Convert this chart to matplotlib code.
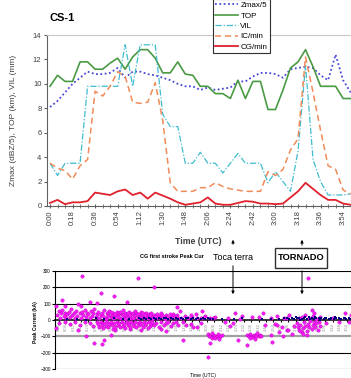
import numpy as np
import matplotlib
matplotlib.use('Agg')
import matplotlib.pyplot as plt
from matplotlib.patches import FancyArrowPatch, Rectangle

plt.rcParams['font.family'] = ['Liberation Sans', 'DejaVu Sans']

# ---- upper panel, one value every 6 min from 0:00 to 4:00
tick_labels = ['0:00', '0:18', '0:36', '0:54', '1:12', '1:30', '1:48',
               '2:06', '2:24', '2:42', '3:00', '3:18', '3:36', '3:54']
zmax5 = [8.1, 8.6, 9.3, 10.0, 10.5, 11.0, 10.8, 10.8, 10.9, 11.3, 10.5, 11.0, 11.0, 10.8,
         10.7, 10.5, 10.3, 10.0, 9.8, 9.8, 9.5, 9.7, 9.5, 9.6, 9.7, 10.2, 10.2, 10.6,
         10.9, 10.9, 10.8, 10.5, 11.2, 11.3, 11.4, 11.3, 10.7, 10.3, 12.4, 10.3, 9.3]
top = [9.8, 10.7, 10.2, 10.2, 11.8, 11.8, 11.2, 11.2, 11.7, 12.1, 11.2, 12.2, 12.8, 12.8,
       12.1, 10.9, 10.9, 11.8, 10.8, 10.7, 9.8, 9.8, 9.2, 9.2, 8.8, 10.3, 8.8, 10.2,
       10.2, 7.9, 7.9, 9.5, 11.3, 11.8, 12.8, 11.4, 9.8, 9.8, 9.8, 8.8, 8.8]
vil = [3.5, 2.5, 3.5, 3.5, 3.5, 9.8, 9.8, 9.8, 9.8, 9.8, 13.2, 9.8, 13.2, 13.2,
       13.2, 7.5, 6.5, 6.5, 3.5, 3.5, 4.4, 3.5, 3.5, 2.7, 3.5, 4.3, 3.5, 3.5,
       3.5, 1.9, 2.8, 2.0, 1.2, 4.5, 11.5, 3.8, 2.0, 0.9, 0.9, 0.9, 1.0]
ic = [3.5, 3.1, 2.9, 2.2, 3.3, 3.8, 9.4, 9.0, 9.8, 11.0, 10.6, 8.5, 8.4, 8.5,
      10.1, 7.0, 1.9, 1.2, 1.2, 1.2, 1.5, 1.5, 1.9, 1.6, 1.4, 1.3, 1.2, 1.2,
      1.2, 2.8, 2.5, 3.0, 4.6, 5.5, 12.2, 9.3, 6.2, 3.3, 3.0, 1.3, 1.0]
cg = [0.25, 0.5, 0.15, 0.3, 0.3, 0.4, 1.1, 1.0, 0.9, 1.2, 1.35, 0.9, 1.1, 0.6,
      1.1, 0.85, 0.6, 0.3, 0.1, 0.2, 0.3, 0.7, 0.2, 0.1, 0.1, 0.25, 0.4, 0.35,
      0.2, 0.2, 0.15, 0.2, 0.7, 1.2, 1.9, 1.4, 0.9, 0.5, 0.5, 0.2, 0.1]

# ---- lower panel: CG first stroke peak current, (minutes after 0:00, kA)
cg_outliers = [(22, 270), (37, 165), (48, 146), (67, 256), (80, 200), (6, 122), (28, 108),
               (34, 104), (1, 85), (19, 95), (21, 87), (8, 85), (58, 111), (25, -97),
               (32, -140), (38, -147), (40, -122), (45, -92), (19, -61), (31, -36), (1, -49),
               (49, -61), (61, -55), (70, -61), (90, -67), (86, -55), (205, 256), (124, -226),
               (156, -152), (148, -122), (126, -140), (104, -122), (176, -134)]
cg_left_pos = [(2, 30), (3, 55), (4, 15), (5, 40), (6, 60), (7, 25), (8, 45), (9, 10), (10, 35),
               (11, 50), (12, 20), (13, 65), (14, 30), (15, 45), (16, 15), (17, 55), (18, 25),
               (20, 40), (21, 10), (22, 50), (23, 30), (24, 60), (25, 20), (26, 45), (27, 35),
               (28, 15), (29, 55), (30, 25), (31, 40), (32, 65), (33, 20), (34, 35), (35, 50),
               (36, 10), (37, 30), (38, 45), (39, 25), (40, 60), (41, 15), (42, 40), (43, 30),
               (44, 55), (45, 20), (46, 35), (47, 45), (48, 10), (49, 25), (50, 50), (51, 30),
               (52, 40), (53, 15), (54, 35), (55, 60), (56, 20), (57, 45), (58, 25), (59, 30),
               (60, 50), (61, 15), (62, 35), (63, 40), (64, 20), (65, 30), (66, 45), (67, 10),
               (68, 25), (69, 35), (70, 50), (71, 20), (72, 30), (73, 15), (74, 40), (75, 25),
               (76, 35), (77, 10), (78, 45), (79, 20), (80, 30), (82, 15), (84, 25), (86, 40),
               (88, 20), (90, 30), (92, 15), (94, 25), (96, 35), (98, 20), (100, 10),
               (41, 8), (43, 22), (45, 48), (47, 12), (49, 38), (51, 18), (53, 52), (55, 28),
               (57, 8), (59, 42), (61, 32), (63, 12), (65, 55), (67, 38), (69, 18), (71, 42),
               (73, 28), (75, 12), (77, 32), (79, 8), (81, 22), (83, 38), (85, 12), (87, 28),
               (89, 8), (91, 18), (93, 35), (95, 12), (97, 22), (99, 30), (102, 15), (105, 25),
               (108, 10), (111, 20), (114, 35), (118, 15), (122, 25), (126, 10), (130, 20)]
cg_left_neg = [(3, -20), (8, -15), (12, -25), (16, -10), (20, -30), (24, -15), (28, -20),
               (34, -10), (35, -25), (36, -40), (37, -15), (38, -30), (39, -50), (40, -20),
               (41, -35), (42, -10), (43, -45), (44, -25), (45, -15), (46, -30), (47, -55),
               (48, -20), (49, -40), (50, -10), (51, -30), (52, -20), (53, -45), (54, -15),
               (55, -35), (56, -25), (57, -50), (58, -10), (59, -30), (60, -20), (61, -40),
               (62, -15), (63, -25), (64, -35), (65, -10), (66, -45), (67, -20), (68, -30),
               (69, -15), (70, -25), (71, -40), (72, -10), (73, -30), (74, -20), (75, -50),
               (76, -15), (77, -35), (78, -25), (79, -10), (80, -30), (82, -20), (84, -40),
               (86, -15), (88, -30), (90, -20), (92, -10), (94, -35), (96, -20), (98, -15),
               (100, -30), (104, -10), (110, -25), (115, -40)]
cg_mid = [(101, 55), (99, 80), (119, 55), (146, 43), (152, 24), (160, 18), (169, 43), (110, 30),
          (115, 15), (121, 20), (128, 10), (140, 12), (150, 8), (165, 20), (175, 12), (180, 25),
          (186, 15), (190, 30), (106, -30), (112, -45), (118, -20), (138, -15), (142, -35),
          (144, -20), (170, -30), (178, -25), (184, -45), (188, -60), (192, -85), (194, -35),
          (124, -85), (125, -100), (126, -95), (127, -110), (128, -90), (129, -105), (130, -95),
          (131, -100), (132, -88), (133, -102), (134, -95), (135, -90), (127, -80), (130, -112),
          (133, -115), (156, -90), (157, -100), (158, -85), (159, -95), (160, -105), (161, -90),
          (162, -100), (163, -95), (164, -80), (165, -100), (166, -92), (167, -98), (158, -110),
          (162, -115), (175, -90), (182, -75), (189, -60), (185, -95)]
cg_tornado = [(196, -20), (197, -40), (198, -60), (199, -30), (200, -75), (201, -50), (202, -10),
              (203, -35), (204, -65), (205, -25), (206, -45), (207, -5), (208, -55), (209, -30),
              (210, -15), (211, -40), (212, -20), (213, -60), (214, -10), (215, -35), (198, 10),
              (200, 20), (203, 30), (206, 15), (209, 25), (212, 5), (215, 20), (201, -85),
              (204, -90), (199, -70), (208, 61), (210, 43), (235, 43), (180, -30), (188, 10),
              (220, -20), (225, 10), (230, -15), (240, 30), (238, -10)]
cg_navy = [(10, 5), (18, 8), (25, 3), (33, 10), (40, 6), (48, 12), (55, 4), (60, 9),
           (68, 10), (70, 6), (72, 14), (74, 8), (76, 12), (78, 5), (80, 15), (82, 9), (84, 12),
           (86, 6), (88, 14), (90, 10), (92, 7), (94, 13), (96, 9), (98, 11), (100, 6),
           (102, 14), (104, 8), (106, 12), (108, 10), (110, 7), (112, 13), (114, 9), (116, 11),
           (118, 6), (120, 12), (122, 8), (124, 10), (126, 5), (128, 9), (135, 8), (145, 6),
           (152, 10), (168, 8), (175, 4), (182, 7), (186, 10), (188, 14), (190, 6), (192, 12),
           (194, 8), (196, 15), (198, 10), (200, 6), (202, 13), (204, 9), (206, 16), (208, 11),
           (210, 7), (212, 14), (214, 10), (216, 12), (218, 8), (220, 13), (222, 9), (224, 11),
           (226, 7), (228, 12), (230, 10), (232, 8), (234, 13), (236, 9), (238, 11), (240, 7),
           (195, 18), (199, 3), (203, 17), (207, 4), (211, 18), (215, 3), (219, 15), (223, 5),
           (227, 16), (231, 4), (235, 14), (239, 5)]
low_tick_labels = ['0:00', '0:06', '0:12', '0:18', '0:24', '0:30', '0:36', '0:42', '0:48',
                   '0:54', '1:00', '1:06', '1:12', '1:18', '1:24', '1:30', '1:36', '1:42',
                   '1:48', '1:54', '2:00', '2:06', '2:12', '2:18', '2:24', '2:30', '2:36',
                   '2:42', '2:48', '2:54', '3:00', '3:06', '3:12', '3:18', '3:24', '3:30',
                   '3:36', '3:42', '3:48', '3:54']

W, H = 351, 378


def fx(x):
    return x / W


def fy(y):
    return 1 - y / H


fig = plt.figure(figsize=(W / 100, H / 100), dpi=100)

# ================= upper chart
ax = fig.add_axes([fx(47), fy(206), (351 - 47) / W, (206 - 35) / H])
x = np.arange(len(top))
ax.plot(x, zmax5, color='#4848d8', ls=(0, (1, 1.4)), lw=1.3, label='Zmax/5')
ax.plot(x, top, color='#4a9a44', lw=1.2, label='TOP')
ax.plot(x, vil, color='#40bcd0', ls=(0, (5, 1.5, 1, 1.5)), lw=0.9, label='VIL')
ax.plot(x, ic, color='#f08a58', ls=(0, (4, 2.5)), lw=1.1, label='IC/min')
ax.plot(x, cg, color='#e0202c', lw=1.3, label='CG/min')
ax.set_xlim(-0.4, 40.05)
ax.set_ylim(0, 14)
ax.set_yticks(range(0, 15, 2))
ax.set_xticks(range(0, 41, 3))
ax.set_xticklabels(tick_labels)
ax.set_xticks(range(41), minor=True)
ax.tick_params(axis='x', which='both', direction='inout', length=3, color='#606060',
               labelsize=5.5, labelrotation=90, labelcolor='#404040', pad=1.5)
ax.tick_params(axis='y', length=2.5, color='#606060', labelsize=5.5, labelcolor='#404040', pad=1.5)
ax.spines['right'].set_visible(False)
ax.spines['top'].set_color('#c8c8c8')
ax.spines['left'].set_color('#606060')
ax.spines['bottom'].set_color('#606060')
ax.legend(loc='upper left', bbox_to_anchor=(fx(213), fy(-1)), bbox_transform=fig.transFigure,
          fontsize=5.8, frameon=True, fancybox=False, edgecolor='#303030', framealpha=1,
          handlelength=2.8, labelspacing=0.35, borderpad=0.3, handletextpad=0.3,
          borderaxespad=0).get_frame().set_linewidth(0.8)

fig.text(fx(50), fy(18), 'CS-1', fontsize=8, fontweight='bold', va='center')
fig.text(fx(14), fy(120), 'Zmax (dBZ/5), TOP (km), VIL (mm)', rotation=90, fontsize=6,
         color='#404040', ha='center', va='center')
fig.text(fx(198), fy(242), 'Time (UTC)', fontsize=6.3, fontweight='bold', color='#404040',
         ha='center', va='center')

# ================= annotations between the charts
fig.text(fx(140), fy(256), 'CG first stroke Peak Cur', fontsize=4, fontweight='bold', va='center')
fig.text(fx(233), fy(257), 'Toca terra', fontsize=6.5, ha='center', va='center')
fig.text(fx(301), fy(258), 'TORNADO', fontsize=6.7, fontweight='bold', ha='center', va='center')
fig.add_artist(Rectangle((fx(275), fy(268)), fx(327) - fx(275), fy(248) - fy(268),
                         transform=fig.transFigure, fill=False, ec='#303030', lw=1))
for (xa, y0, y1) in [(233, 247, 237), (233, 263, 297), (302, 248, 237), (302, 268, 297)]:
    fig.add_artist(FancyArrowPatch((fx(xa), fy(y0)), (fx(xa), fy(y1)), transform=fig.transFigure,
                                   arrowstyle='-|>', mutation_scale=4, lw=0.7, color='black'))

# ================= lower chart
axb = fig.add_axes([fx(55), fy(369), (351 - 55) / W, (369 - 271) / H])
axb.set_xlim(0, 240)
axb.set_ylim(-300, 300)
for v in [300, 200, 100, -200, -300]:
    axb.axhline(v, color='black', lw=0.8, zorder=1)
axb.axhline(-100, color='#a0a0a0', lw=1.6, zorder=1)
mag = cg_outliers + cg_left_pos + cg_left_neg + cg_mid + cg_tornado
axb.scatter([p[0] for p in mag], [p[1] for p in mag], s=6, color='#ff1cff', edgecolor='#b000b0',
            lw=0.3, zorder=3, clip_on=False)
axb.scatter([p[0] for p in cg_navy], [p[1] for p in cg_navy], s=3, marker='s', color='#000080',
            lw=0, zorder=4)
axb.set_yticks(range(-300, 301, 100))
axb.tick_params(axis='y', length=2, labelsize=3.3, pad=1)
axb.set_xticks(np.arange(len(low_tick_labels)) * 6 + 3)
axb.set_xticklabels(low_tick_labels)
axb.tick_params(axis='x', length=1.5, labelsize=3, labelrotation=90, labelcolor='#909090',
                color='black', pad=0.5)
axb.spines['bottom'].set_position(('data', 0))
axb.spines['bottom'].set_linewidth(1.1)
axb.spines['top'].set_visible(False)
axb.spines['right'].set_visible(False)
axb.spines['left'].set_linewidth(0.8)
axb.set_facecolor('none')
fig.text(fx(36), fy(322), 'Peak Current (kA)', rotation=90, fontsize=3.5, fontweight='bold',
         ha='center', va='center')
fig.text(fx(203), fy(376), 'Time (UTC)', fontsize=3.6, ha='center', va='center')

fig.savefig('out.png', dpi=100)
